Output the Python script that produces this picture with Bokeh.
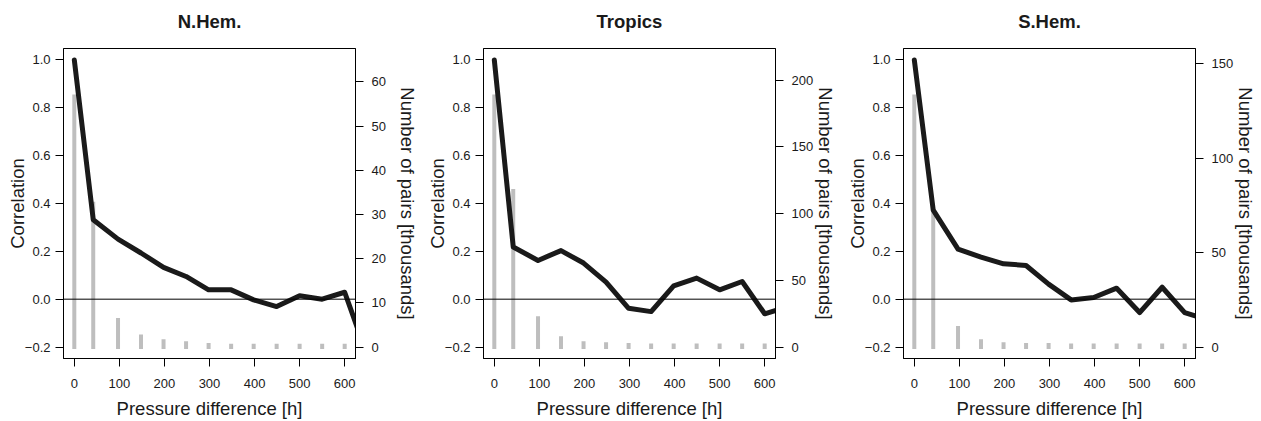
from bokeh.plotting import figure
from bokeh.models import Range1d, LinearAxis, FixedTicker, Span, CustomJSTickFormatter
from bokeh.layouts import row
from bokeh.embed import file_html
from bokeh.resources import INLINE

# ---------------- data ----------------
pressure_diff = [0, 42, 97, 148, 198, 248, 298, 348, 398, 449, 500, 550, 600, 650]
regions = ["N.Hem.", "Tropics", "S.Hem."]

corr_nhem = [1.0, 0.332, 0.251, 0.193, 0.133, 0.095, 0.039, 0.039, -0.003, -0.031, 0.014, 0.0, 0.029, -0.235]
corr_trop = [1.0, 0.218, 0.162, 0.203, 0.151, 0.071, -0.038, -0.052, 0.056, 0.088, 0.039, 0.074, -0.061, -0.032]
corr_shem = [1.0, 0.372, 0.209, 0.176, 0.148, 0.141, 0.063, -0.003, 0.007, 0.046, -0.056, 0.050, -0.056, -0.085]

# number of pairs [thousands]
pairs_nhem = [56.7, 32.4, 6.1, 2.4, 1.3, 0.85, 0.45, 0.3, 0.3, 0.3, 0.3, 0.3, 0.3]
pairs_trop = [187.7, 116.8, 21.6, 6.5, 2.8, 2.0, 1.5, 1.05, 1.05, 1.05, 1.05, 1.05, 1.05]
pairs_shem = [132.6, 71.2, 10.1, 3.0, 1.4, 1.06, 1.06, 0.75, 0.75, 0.75, 0.75, 0.75, 0.75]

pairs_ticks_nhem = [0, 10, 20, 30, 40, 50, 60]
pairs_ticks_trop = [0, 50, 100, 150, 200]
pairs_ticks_shem = [0, 50, 100, 150]

corr_ticks = [-0.2, 0.0, 0.2, 0.4, 0.6, 0.8, 1.0]
x_ticks = [0, 100, 200, 300, 400, 500, 600]

x_label = "Pressure difference [h]"
y_label = "Correlation"
y2_label = "Number of pairs [thousands]"

# ---------------- style ----------------
FONT = "Liberation Sans"
TICK_SIZE = "13px"
LAB_SIZE = "18.5px"
TXT = "#1a1a1a"

panels = [
    (regions[0], corr_nhem, pairs_nhem, pairs_ticks_nhem, 63, 65, 8),
    (regions[1], corr_trop, pairs_trop, pairs_ticks_trop, 63, 65, -1),
    (regions[2], corr_shem, pairs_shem, pairs_ticks_shem, 63, 66, -1),
]


def style_axis(ax):
    ax.axis_line_color = "black"
    ax.axis_line_width = 1
    ax.major_tick_line_color = "black"
    ax.major_tick_in = 0
    ax.major_tick_out = 8
    ax.minor_tick_line_color = None
    ax.major_label_text_font = FONT
    ax.major_label_text_font_size = TICK_SIZE
    ax.major_label_text_color = TXT
    ax.axis_label_text_font = FONT
    ax.axis_label_text_font_size = LAB_SIZE
    ax.axis_label_text_font_style = "normal"
    ax.axis_label_text_color = TXT


figs = []
for title, corr, pairs, pticks, bl, br, y2_standoff in panels:
    K = pairs[0] / 0.873
    p = figure(
        frame_width=292, frame_height=310,
        min_border_left=bl, min_border_right=br, min_border_top=48, min_border_bottom=62,
        x_range=Range1d(-24, 624), y_range=Range1d(-0.248, 1.048),
        output_backend="svg", toolbar_location=None,
    )
    p.extra_y_ranges = {"pairs": Range1d(-0.04 * K, 1.04 * K)}
    p.title.text = ""
    p.title.standoff = 0

    p.xgrid.visible = False
    p.ygrid.visible = False
    p.outline_line_color = "black"
    p.outline_line_width = 1
    p.outline_line_alpha = 1
    p.background_fill_color = "white"
    p.border_fill_color = "white"

    # bars (number of pairs)
    nb = len(pairs)
    p.segment(x0=pressure_diff[:nb], y0=[0] * nb, x1=pressure_diff[:nb], y1=pairs,
              y_range_name="pairs", line_color="#bebebe", line_width=4, line_cap="square")

    # zero line
    p.add_layout(Span(location=0, dimension="width", line_color="black", line_width=1))

    # correlation line
    p.line(pressure_diff, corr, line_color="#1a1a1a", line_width=5,
           line_join="round", line_cap="round")

    # axes
    xa = p.xaxis[0]
    style_axis(xa)
    xa.ticker = FixedTicker(ticks=x_ticks)
    xa.axis_label = x_label
    xa.major_label_standoff = 12
    xa.axis_label_standoff = 7

    ya = p.yaxis[0]
    style_axis(ya)
    ya.ticker = FixedTicker(ticks=corr_ticks)
    ya.formatter = CustomJSTickFormatter(code="return tick.toFixed(1).replace('-', '\u2212');")
    ya.axis_label = y_label
    ya.major_label_standoff = 5
    ya.axis_label_standoff = -6

    ra = LinearAxis(y_range_name="pairs", ticker=FixedTicker(ticks=pticks),
                    axis_label=y2_label)
    style_axis(ra)
    ra.major_label_standoff = 8
    ra.axis_label_standoff = y2_standoff
    p.add_layout(ra, "right")

    # panel title drawn as the label of a bare top axis
    ta = LinearAxis(ticker=FixedTicker(ticks=[]), axis_label=title)
    style_axis(ta)
    ta.axis_line_color = None
    ta.major_tick_out = 0
    ta.major_label_standoff = 0
    ta.axis_label_text_font_style = "bold"
    ta.axis_label_standoff = 17
    p.add_layout(ta, "above")

    figs.append(p)

layout = row(*figs)
open("out.html", "w").write(file_html(layout, INLINE))
